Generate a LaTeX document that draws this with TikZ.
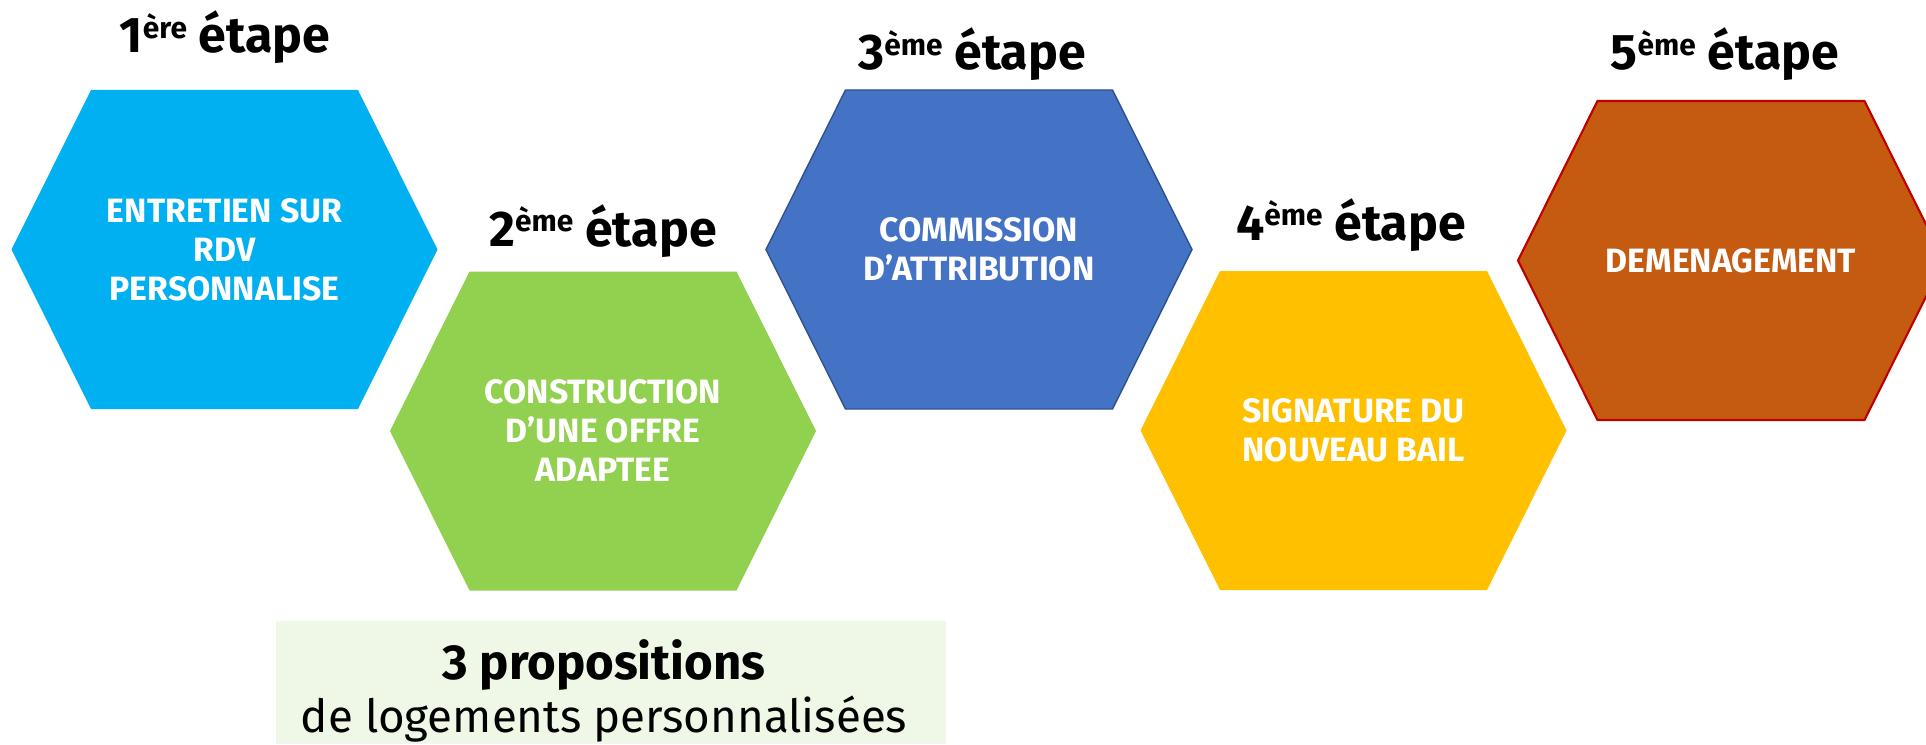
\documentclass[tikz,border=0pt]{standalone}
\usepackage{fontspec}
\setmainfont{Fira Sans}
\definecolor{bleuciel}{HTML}{00B0F0}
\definecolor{vertpomme}{HTML}{92D050}
\definecolor{bleuroi}{HTML}{4472C4}
\definecolor{bleunuit}{HTML}{2F528F}
\definecolor{jaune}{HTML}{FFC000}
\definecolor{orange}{HTML}{C55A11}
\definecolor{rouge}{HTML}{C00000}
\definecolor{vertpale}{HTML}{EFF7E7}
\newcommand{\expo}[1]{\raisebox{8.5pt}{\fontsize{17}{18}\selectfont #1}}
\begin{document}
\begin{tikzpicture}[
    hexa/.pic={\path[pic actions] (-4.26,0) -- (-2.67,3.19) -- (2.67,3.19) -- (4.26,0) -- (2.67,-3.19) -- (-2.67,-3.19) -- cycle;},
    hextext/.style={text=white, align=center, font=\fontsize{19.2}{22.2}\selectfont\bfseries},
    etape/.style={anchor=base, font=\fontsize{28.5}{32}\selectfont\bfseries}]

    \useasboundingbox (0,0) rectangle (38.52,14.88);
    \clip (0,0) rectangle (38.52,14.88);

    % hexagones
    \pic[fill=bleuciel] at (4.49,9.89) {hexa};
    \pic[fill=vertpomme] at (12.06,6.26) {hexa};
    \pic[fill=bleuroi, draw=bleunuit, line width=0.8pt] at (19.58,9.89) {hexa};
    \pic[fill=jaune] at (27.07,6.27) {hexa};
    \pic[fill=orange, draw=rouge, line width=1.2pt] at (34.62,9.67) {hexa};

    \node[hextext] (h1) at (4.49,9.89) {ENTRETIEN SUR\\RDV\\PERSONNALISE};
    \node[hextext] (h2) at (12.06,6.26) {CONSTRUCTION\\D’UNE OFFRE\\ADAPTEE};
    \node[hextext] (h3) at (19.58,9.89) {COMMISSION\\D’ATTRIBUTION};
    \node[hextext] (h4) at (27.07,6.27) {SIGNATURE DU\\NOUVEAU BAIL};
    \node[hextext] (h5) at (34.62,9.67) {DEMENAGEMENT};

    % titres
    \node[etape] (t1) at (4.50,13.82) {1\expo{ère} étape};
    \node[etape] (t2) at (12.06,9.96) {2\expo{ème} étape};
    \node[etape] (t3) at (19.44,13.48) {3\expo{ème} étape};
    \node[etape] (t4) at (27.02,10.08) {4\expo{ème} étape};
    \node[etape] (t5) at (34.50,13.48) {5\expo{ème} étape};

    % encadre du bas
    \node[fill=vertpale, anchor=south west, minimum width=13.4cm, minimum height=2.46cm] (offre) at (5.52,0) {};
    \node[anchor=base, font=\fontsize{28}{30}\selectfont\bfseries] (prop) at (12.08,1.30) {3 propositions};
    \node[anchor=base, font=\fontsize{26}{28}\selectfont] (loge) at (12.08,0.24) {de logements personnalisées};
\end{tikzpicture}
\end{document}
